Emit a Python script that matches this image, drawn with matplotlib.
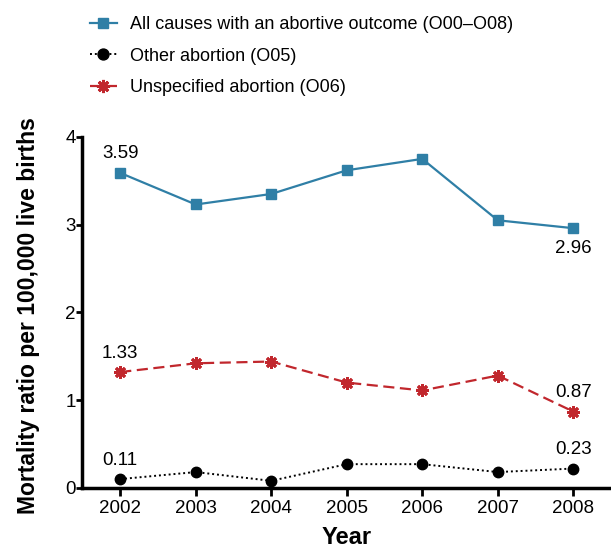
import matplotlib
matplotlib.use('Agg')
import matplotlib.pyplot as plt

plt.rcParams['font.family'] = ['Liberation Sans', 'DejaVu Sans']

# 数据
years = [2002, 2003, 2004, 2005, 2006, 2007, 2008]
all_causes = [3.59, 3.23, 3.35, 3.62, 3.75, 3.05, 2.96]
other_abortion = [0.10, 0.18, 0.08, 0.27, 0.27, 0.18, 0.22]
unspecified = [1.32, 1.42, 1.44, 1.20, 1.11, 1.28, 0.87]

labels_first = ['3.59', '0.11', '1.33']
labels_last = ['2.96', '0.23', '0.87']

blue = '#2f7fa6'
red = '#c1272d'

fig = plt.figure(figsize=(6.11, 5.5), dpi=100)
ax = fig.add_axes([0.135, 0.113, 0.865, 0.638])

l1, = ax.plot(years, all_causes, color=blue, lw=1.6, marker='s', ms=7.5,
              label='All causes with an abortive outcome (O00\u2013O08)')
l2, = ax.plot(years, other_abortion, color='black', lw=1.4, ls=(0, (1, 1.5)),
              marker='o', ms=7.5, label='Other abortion (O05)')
l3, = ax.plot(years, unspecified, color=red, lw=1.6, ls=(0, (5, 2.5)),
              marker=(8, 2, 0), ms=9, mew=2, label='Unspecified abortion (O06)')

# 首尾数值标注
fs = 13.5
ax.text(years[0], all_causes[0] + 0.12, labels_first[0], ha='center', va='bottom', fontsize=fs)
ax.text(years[0], other_abortion[0] + 0.12, labels_first[1], ha='center', va='bottom', fontsize=fs)
ax.text(years[0], unspecified[0] + 0.12, labels_first[2], ha='center', va='bottom', fontsize=fs)
ax.text(years[-1], all_causes[-1] - 0.14, labels_last[0], ha='center', va='top', fontsize=fs)
ax.text(years[-1], other_abortion[-1] + 0.12, labels_last[1], ha='center', va='bottom', fontsize=fs)
ax.text(years[-1], unspecified[-1] + 0.12, labels_last[2], ha='center', va='bottom', fontsize=fs)

ax.set_xlim(2001.5, 2008.5)
ax.set_ylim(0, 4)
ax.set_xticks(years)
ax.set_yticks([0, 1, 2, 3, 4])
ax.spines['top'].set_visible(False)
ax.spines['right'].set_visible(False)
ax.spines['left'].set_linewidth(2.5)
ax.spines['bottom'].set_linewidth(2.5)
ax.tick_params(axis='x', length=6, width=2, labelsize=13.5, pad=3)
ax.tick_params(axis='y', length=4, width=2, labelsize=13.5, pad=1)

ax.set_xlabel('Year', fontsize=17, fontweight='bold', labelpad=6)
ax.set_ylabel('Mortality ratio per 100,000 live births', fontsize=16.5,
              fontweight='bold')
ax.yaxis.set_label_coords(-0.08, 0.49)

fig.legend(handles=[l1, l2, l3], loc='upper left', bbox_to_anchor=(0.12, 1.0),
           frameon=False, fontsize=13, handlelength=1.5, handletextpad=0.75,
           labelspacing=0.8, markerscale=1.05)

fig.savefig('out.png', dpi=100)
